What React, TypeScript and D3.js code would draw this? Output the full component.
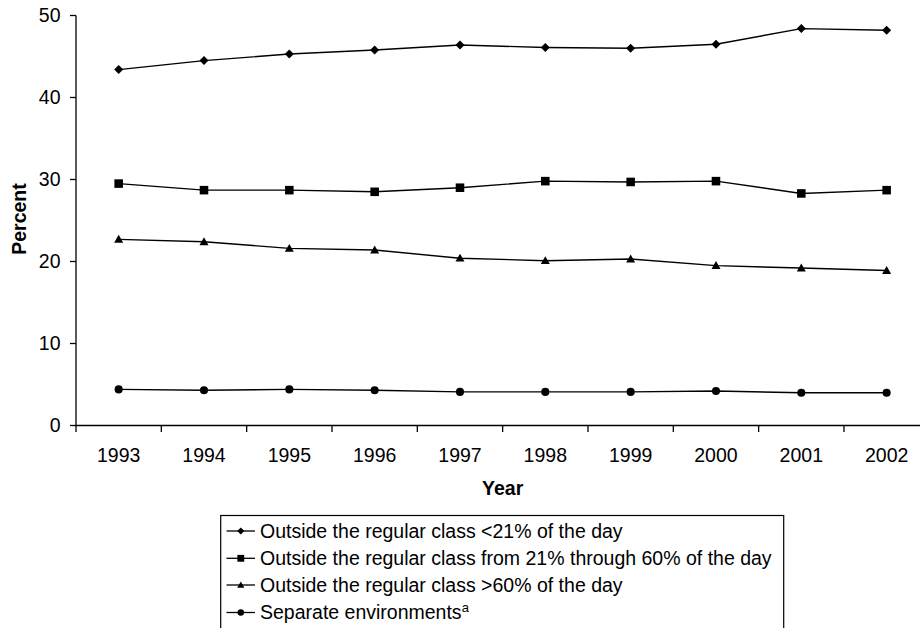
import React from "react";
import * as d3 from "d3";

const years = ["1993", "1994", "1995", "1996", "1997", "1998", "1999", "2000", "2001", "2002"];
const lessThan21 = [43.4, 44.5, 45.3, 45.8, 46.4, 46.1, 46.0, 46.5, 48.4, 48.2];
const from21to60 = [29.5, 28.7, 28.7, 28.5, 29.0, 29.8, 29.7, 29.8, 28.3, 28.7];
const moreThan60 = [22.7, 22.4, 21.6, 21.4, 20.4, 20.1, 20.3, 19.5, 19.2, 18.9];
const separate = [4.4, 4.3, 4.4, 4.3, 4.1, 4.1, 4.1, 4.2, 4.0, 4.0];
const yTicks = [0, 10, 20, 30, 40, 50];
const seriesNames = [
  "Outside the regular class <21% of the day",
  "Outside the regular class from 21% through 60% of the day",
  "Outside the regular class >60% of the day",
  "Separate environments",
];

const W = 920;
const H = 628;
const FONT = "Arial, 'Liberation Sans', Helvetica, sans-serif";
const FS = 19.5;

type Shape = "diamond" | "square" | "triangle" | "circle";

function Marker({ shape, x, y, r }: { shape: Shape; x: number; y: number; r: number }) {
  if (shape === "diamond") {
    return <path d={`M${x},${y - r}L${x + r},${y}L${x},${y + r}L${x - r},${y}Z`} fill="#000" />;
  }
  if (shape === "square") {
    return <rect x={x - r * 0.95} y={y - r * 0.95} width={r * 1.9} height={r * 1.9} fill="#000" />;
  }
  if (shape === "triangle") {
    return <path d={`M${x},${y - r}L${x + r},${y + r * 0.75}L${x - r},${y + r * 0.75}Z`} fill="#000" />;
  }
  return <circle cx={x} cy={y} r={r * 0.9} fill="#000" />;
}

export default function App() {
  const x = d3.scaleBand<string>().domain(years).range([76, 929.3]).padding(0);
  const y = d3.scaleLinear().domain([0, 50]).range([425.5, 15.5]);
  const cx = (d: string) => (x(d) as number) + x.bandwidth() / 2;

  const series: { values: number[]; shape: Shape }[] = [
    { values: lessThan21, shape: "diamond" },
    { values: from21to60, shape: "square" },
    { values: moreThan60, shape: "triangle" },
    { values: separate, shape: "circle" },
  ];

  const line = d3
    .line<number>()
    .x((_, i) => cx(years[i]))
    .y((v) => y(v));

  const boundaries = years.map((d) => x(d) as number).concat([929.3]);

  const legendTop = 515.5;
  const legendRowY = [531, 558.3, 585, 612.5];

  return (
    <svg
      width={W}
      height={H}
      style={{ position: "absolute", left: 0, top: 0, background: "#fff" }}
      fontFamily={FONT}
    >
      <rect x={0} y={0} width={W} height={H} fill="#fff" />
      {/* Y axis */}
      <line x1={76} x2={76} y1={y(50)} y2={y(0)} stroke="#000" strokeWidth={1.3} />
      {yTicks.map((t) => (
        <g key={t}>
          <line x1={70} x2={76} y1={y(t)} y2={y(t)} stroke="#000" strokeWidth={1.3} />
          <text x={60.5} y={y(t)} dy="0.35em" textAnchor="end" fontSize={FS} fill="#000">
            {t}
          </text>
        </g>
      ))}
      {/* X axis */}
      <line x1={76} x2={929.3} y1={y(0)} y2={y(0)} stroke="#000" strokeWidth={1.3} />
      {boundaries.map((b, i) => (
        <line key={i} x1={b} x2={b} y1={y(0)} y2={y(0) + 6.5} stroke="#000" strokeWidth={1.3} />
      ))}
      {years.map((d) => (
        <text key={d} x={cx(d)} y={461.5} textAnchor="middle" fontSize={FS} fill="#000">
          {d}
        </text>
      ))}
      <text x={502.7} y={495} textAnchor="middle" fontSize={FS} fontWeight="bold" fill="#000">
        Year
      </text>
      <text
        transform={`translate(26, 219) rotate(-90)`}
        textAnchor="middle"
        fontSize={FS}
        fontWeight="bold"
        fill="#000"
      >
        Percent
      </text>
      {/* Series */}
      {series.map((s, si) => (
        <g key={si}>
          <path d={line(s.values) || ""} fill="none" stroke="#000" strokeWidth={1.4} />
          {s.values.map((v, i) => (
            <Marker key={i} shape={s.shape} x={cx(years[i])} y={y(v)} r={4.5} />
          ))}
        </g>
      ))}
      {/* Legend */}
      <rect x={220.7} y={legendTop} width={563} height={120} fill="none" stroke="#000" strokeWidth={1.2} />
      {series.map((s, si) => (
        <g key={si}>
          <line x1={226.5} x2={255} y1={legendRowY[si]} y2={legendRowY[si]} stroke="#000" strokeWidth={1.3} />
          <Marker shape={s.shape} x={240.8} y={legendRowY[si]} r={3.6} />
          <text x={260} y={legendRowY[si]} dy="0.35em" fontSize={FS} fill="#000">
            {seriesNames[si]}
            {si === 3 ? (
              <tspan fontSize={13} dy="-0.55em">
                a
              </tspan>
            ) : null}
          </text>
        </g>
      ))}
    </svg>
  );
}
